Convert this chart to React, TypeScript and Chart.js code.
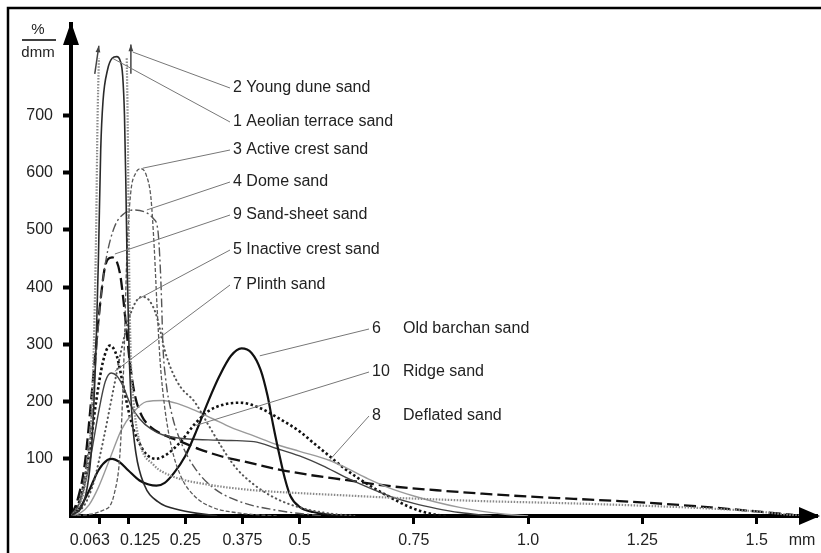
import React, { useEffect, useRef } from 'react';
import { Chart, registerables } from 'chart.js';

Chart.register(...registerables);

// ---------- data ----------
const xTicks = [0.063, 0.125, 0.25, 0.375, 0.5, 0.75, 1.0, 1.25, 1.5];
const xTickLabels = ['0.063', '0.125', '0.25', '0.375', '0.5', '0.75', '1.0', '1.25', '1.5'];
const yTicks = [100, 200, 300, 400, 500, 600, 700];

const seriesNumbers = ['1', '2', '3', '4', '5', '6', '7', '8', '9', '10'];
const seriesNames = [
  'Aeolian terrace sand',
  'Young dune sand',
  'Active crest sand',
  'Dome sand',
  'Inactive crest sand',
  'Old barchan sand',
  'Plinth sand',
  'Deflated sand',
  'Sand-sheet sand',
  'Ridge sand',
];

// null = curve runs off the scale (shown by an arrow)
const aeolianTerrace = [[0,0],[0.03,30],[0.045,120],[0.055,300],[0.06,450],[0.065,640],[0.07,725],[0.08,780],[0.09,800],[0.1,803],[0.108,795],[0.113,770],[0.117,700],[0.12,580],[0.123,430],[0.127,290],[0.133,180],[0.142,110],[0.16,55],[0.19,25],[0.24,10],[0.32,0]];
const youngDune = [[0,0],[0.02,20],[0.035,80],[0.045,180],[0.05,300],[0.055,500],[0.058,690],[0.061,800],[0.09,null],[0.122,800],[0.124,690],[0.127,450],[0.13,300],[0.137,200],[0.15,130],[0.18,90],[0.22,70],[0.3,55],[0.4,45],[0.5,40],[0.6,36],[0.7,32],[0.8,29],[0.9,26],[1.0,24],[1.1,22],[1.25,18],[1.4,13],[1.5,8],[1.56,3],[1.6,0]];
const activeCrest = [[0,0],[0.07,10],[0.095,40],[0.108,120],[0.116,280],[0.122,450],[0.13,560],[0.142,600],[0.153,607],[0.165,595],[0.175,555],[0.182,470],[0.188,370],[0.195,270],[0.205,190],[0.22,120],[0.24,70],[0.27,35],[0.31,15],[0.37,5],[0.45,0]];
const domeSand = [[0,0],[0.02,30],[0.04,130],[0.055,280],[0.065,380],[0.077,450],[0.095,505],[0.115,528],[0.14,535],[0.165,530],[0.18,520],[0.19,500],[0.195,440],[0.198,380],[0.201,300],[0.207,240],[0.22,180],[0.24,130],[0.27,85],[0.31,50],[0.37,25],[0.45,10],[0.55,0]];
const inactiveCrest = [[0,0],[0.03,20],[0.05,60],[0.07,130],[0.09,210],[0.11,290],[0.125,340],[0.14,372],[0.155,383],[0.17,378],[0.185,355],[0.195,325],[0.205,290],[0.22,255],[0.24,225],[0.27,200],[0.3,160],[0.33,120],[0.36,85],[0.4,55],[0.45,30],[0.5,15],[0.56,5],[0.62,0]];
const oldBarchan = [[0,0],[0.02,15],[0.04,45],[0.06,80],[0.08,98],[0.09,100],[0.105,95],[0.125,80],[0.15,62],[0.17,55],[0.187,53],[0.205,58],[0.225,75],[0.25,105],[0.275,150],[0.3,200],[0.325,245],[0.35,280],[0.373,293],[0.395,285],[0.415,255],[0.43,210],[0.442,160],[0.455,110],[0.468,65],[0.48,35],[0.5,16],[0.53,7],[0.57,2],[0.62,0]];
const plinthSand = [[0,0],[0.02,25],[0.04,90],[0.06,180],[0.075,235],[0.088,250],[0.1,245],[0.115,225],[0.13,195],[0.15,170],[0.175,152],[0.2,142],[0.25,135],[0.3,133],[0.35,132],[0.4,130],[0.45,118],[0.5,105],[0.55,88],[0.6,68],[0.65,50],[0.7,34],[0.75,22],[0.8,13],[0.85,6],[0.92,0]];
const deflatedSand = [[0,0],[0.02,5],[0.04,20],[0.06,50],[0.085,100],[0.11,150],[0.135,180],[0.165,200],[0.2,202],[0.235,196],[0.27,185],[0.31,170],[0.35,155],[0.4,140],[0.45,125],[0.5,113],[0.566,97],[0.6,85],[0.65,65],[0.7,48],[0.75,35],[0.8,24],[0.85,15],[0.9,8],[0.95,3],[1.0,0]];
const sandSheet = [[0,0],[0.015,30],[0.03,90],[0.045,210],[0.055,300],[0.065,380],[0.073,430],[0.08,448],[0.09,452],[0.1,445],[0.108,420],[0.115,375],[0.122,320],[0.13,260],[0.14,210],[0.155,175],[0.175,155],[0.2,143],[0.24,130],[0.28,117],[0.33,104],[0.38,95],[0.45,82],[0.52,72],[0.6,63],[0.7,52],[0.8,45],[0.9,39],[1.0,34],[1.1,30],[1.2,26],[1.3,21],[1.4,15],[1.5,8],[1.58,2]];
const ridgeSand = [[0,0],[0.02,30],[0.04,110],[0.055,200],[0.07,270],[0.085,298],[0.1,280],[0.115,225],[0.13,170],[0.145,135],[0.165,108],[0.186,100],[0.21,108],[0.24,130],[0.27,160],[0.3,183],[0.335,195],[0.37,198],[0.41,190],[0.456,170],[0.5,148],[0.53,128],[0.565,105],[0.6,82],[0.65,55],[0.7,32],[0.74,16],[0.78,5],[0.82,0]];

const seriesData = [aeolianTerrace, youngDune, activeCrest, domeSand, inactiveCrest, oldBarchan, plinthSand, deflatedSand, sandSheet, ridgeSand];

// leader line targets on the curves (data coords), by series index
const leaderTargets = [[0.091,800],[0.135,811],[0.157,608],[0.166,535],[0.144,378],[0.413,280],[0.096,253],[0.566,98],[0.096,458],[0.272,158]];

// off-scale arrows (data coords: x1, y1, x2, y2)
const offScaleArrows = [[0.052,773,0.061,822],[0.131,773,0.131,824]];

// ---------- styles ----------
const styles = [
  { color: '#2a2a2a', width: 1.6, dash: [] as number[], cap: 'butt' },
  { color: '#8a8a8a', width: 2.2, dash: [1.5, 1.5], cap: 'butt' },
  { color: '#5a5a5a', width: 1.3, dash: [4, 2], cap: 'butt' },
  { color: '#555555', width: 1.4, dash: [9, 3, 2, 3], cap: 'butt' },
  { color: '#555555', width: 2, dash: [0.5, 4], cap: 'round' },
  { color: '#111111', width: 2.2, dash: [], cap: 'butt' },
  { color: '#444444', width: 1.4, dash: [], cap: 'butt' },
  { color: '#9a9a9a', width: 1.4, dash: [], cap: 'butt' },
  { color: '#111111', width: 2.3, dash: [12, 5], cap: 'butt' },
  { color: '#111111', width: 2.6, dash: [2.5, 2.5], cap: 'butt' },
];

const FONT = '"Liberation Sans", Arial, Helvetica, sans-serif';

const upperLabels = [
  { s: 1, y: 88 },
  { s: 0, y: 122 },
  { s: 2, y: 150 },
  { s: 3, y: 182 },
  { s: 8, y: 215 },
  { s: 4, y: 250 },
  { s: 6, y: 285 },
];
const lowerLabels = [
  { s: 5, y: 329 },
  { s: 9, y: 372 },
  { s: 7, y: 416 },
];

const decorPlugin = {
  id: 'decor',
  afterDraw(chart: any) {
    const ctx = chart.ctx as CanvasRenderingContext2D;
    const xs = chart.scales.x;
    const ys = chart.scales.y;
    const area = chart.chartArea;
    ctx.save();

    // frame
    ctx.strokeStyle = '#000';
    ctx.lineWidth = 2.5;
    ctx.beginPath();
    ctx.moveTo(8, 553);
    ctx.lineTo(8, 8);
    ctx.lineTo(821, 8);
    ctx.stroke();

    // axis arrowheads
    ctx.fillStyle = '#000';
    ctx.beginPath();
    ctx.moveTo(area.left, 22);
    ctx.lineTo(area.left - 8, 45);
    ctx.lineTo(area.left + 8, 45);
    ctx.closePath();
    ctx.fill();
    ctx.beginPath();
    ctx.moveTo(820, area.bottom);
    ctx.lineTo(799, area.bottom - 9);
    ctx.lineTo(799, area.bottom + 9);
    ctx.closePath();
    ctx.fill();

    // x tick labels
    ctx.font = '16px ' + FONT;
    ctx.fillStyle = '#222';
    ctx.textAlign = 'center';
    ctx.textBaseline = 'middle';
    const shift: Record<string, number> = { '0.063': -10, '0.125': 12 };
    xTicks.forEach((v, i) => {
      const lbl = xTickLabels[i];
      ctx.fillText(lbl, xs.getPixelForValue(v) + (shift[lbl] || 0), 541);
    });
    ctx.fillText('mm', 802, 541);

    // y unit
    ctx.font = '15px ' + FONT;
    ctx.fillText('%', 38, 30);
    ctx.fillText('dmm', 38, 53);
    ctx.strokeStyle = '#000';
    ctx.lineWidth = 1.3;
    ctx.beginPath();
    ctx.moveTo(22, 40);
    ctx.lineTo(56, 40);
    ctx.stroke();

    // off-scale arrows
    ctx.strokeStyle = '#444';
    ctx.fillStyle = '#444';
    ctx.lineWidth = 1.5;
    offScaleArrows.forEach(([x1, y1, x2, y2]) => {
      const px1 = xs.getPixelForValue(x1), py1 = ys.getPixelForValue(y1);
      const px2 = xs.getPixelForValue(x2), py2 = ys.getPixelForValue(y2);
      ctx.beginPath();
      ctx.moveTo(px1, py1);
      ctx.lineTo(px2, py2);
      ctx.stroke();
      const ang = Math.atan2(py2 - py1, px2 - px1);
      ctx.beginPath();
      ctx.moveTo(px2, py2);
      ctx.lineTo(px2 - 7 * Math.cos(ang - 0.35), py2 - 7 * Math.sin(ang - 0.35));
      ctx.lineTo(px2 - 7 * Math.cos(ang + 0.35), py2 - 7 * Math.sin(ang + 0.35));
      ctx.closePath();
      ctx.fill();
    });

    // series labels with leaders
    ctx.font = '16px ' + FONT;
    ctx.textAlign = 'left';
    ctx.fillStyle = '#222';
    ctx.strokeStyle = '#777';
    ctx.lineWidth = 1;
    upperLabels.forEach(({ s, y }) => {
      const [tx, ty] = leaderTargets[s];
      ctx.beginPath();
      ctx.moveTo(230, y);
      ctx.lineTo(xs.getPixelForValue(tx), ys.getPixelForValue(ty));
      ctx.stroke();
      ctx.fillText(seriesNumbers[s] + ' ' + seriesNames[s], 233, y);
    });
    lowerLabels.forEach(({ s, y }) => {
      const [tx, ty] = leaderTargets[s];
      ctx.beginPath();
      ctx.moveTo(369, y);
      ctx.lineTo(xs.getPixelForValue(tx), ys.getPixelForValue(ty));
      ctx.stroke();
      ctx.fillText(seriesNumbers[s], 372, y);
      ctx.fillText(seriesNames[s], 403, y);
    });

    ctx.restore();
  },
};

export default function App() {
  const ref = useRef<HTMLCanvasElement>(null);

  useEffect(() => {
    if (!ref.current) return;
    const chart = new Chart(ref.current, {
      type: 'line',
      data: {
        datasets: seriesData.map((pts, i) => ({
          label: seriesNumbers[i] + ' ' + seriesNames[i],
          data: pts.map(([x, y]) => ({ x, y })),
          borderColor: styles[i].color,
          borderWidth: styles[i].width,
          borderDash: styles[i].dash,
          borderCapStyle: styles[i].cap as CanvasLineCap,
          pointRadius: 0,
          fill: false,
          spanGaps: false,
          cubicInterpolationMode: 'monotone' as const,
        })),
      },
      options: {
        responsive: false,
        animation: false,
        devicePixelRatio: 1,
        layout: { padding: { top: 24, right: 4, left: 0, bottom: 0 } },
        plugins: {
          legend: { display: false },
          tooltip: { enabled: false },
        },
        events: [],
        scales: {
          x: {
            type: 'linear',
            min: 0,
            max: 1.632,
            afterBuildTicks: (axis: any) => {
              axis.ticks = xTicks.map((v) => ({ value: v }));
            },
            afterFit: (s: any) => {
              s.height = 37;
            },
            ticks: {
              autoSkip: false,
              maxRotation: 0,
              color: 'rgba(0,0,0,0)',
              font: { size: 16, family: FONT },
            },
            grid: {
              display: true,
              drawOnChartArea: false,
              drawTicks: true,
              tickLength: 8,
              tickWidth: 3,
              tickColor: '#000',
            },
            border: { display: true, color: '#000', width: 4 },
          },
          y: {
            type: 'linear',
            min: 0,
            max: 860,
            afterBuildTicks: (axis: any) => {
              axis.ticks = yTicks.map((v) => ({ value: v }));
            },
            afterFit: (s: any) => {
              s.width = 71;
            },
            ticks: {
              autoSkip: false,
              color: '#222',
              padding: 10,
              font: { size: 16, family: FONT },
            },
            grid: {
              display: true,
              drawOnChartArea: false,
              drawTicks: true,
              tickLength: 8,
              tickWidth: 4,
              tickColor: '#000',
            },
            border: { display: true, color: '#000', width: 4 },
          },
        },
      },
      plugins: [decorPlugin],
    });
    return () => chart.destroy();
  }, []);

  return (
    <div style={{ position: 'fixed', left: 0, top: 0, width: 821, height: 553, background: '#fff' }}>
      <canvas ref={ref} width={821} height={553} style={{ display: 'block' }} />
    </div>
  );
}
